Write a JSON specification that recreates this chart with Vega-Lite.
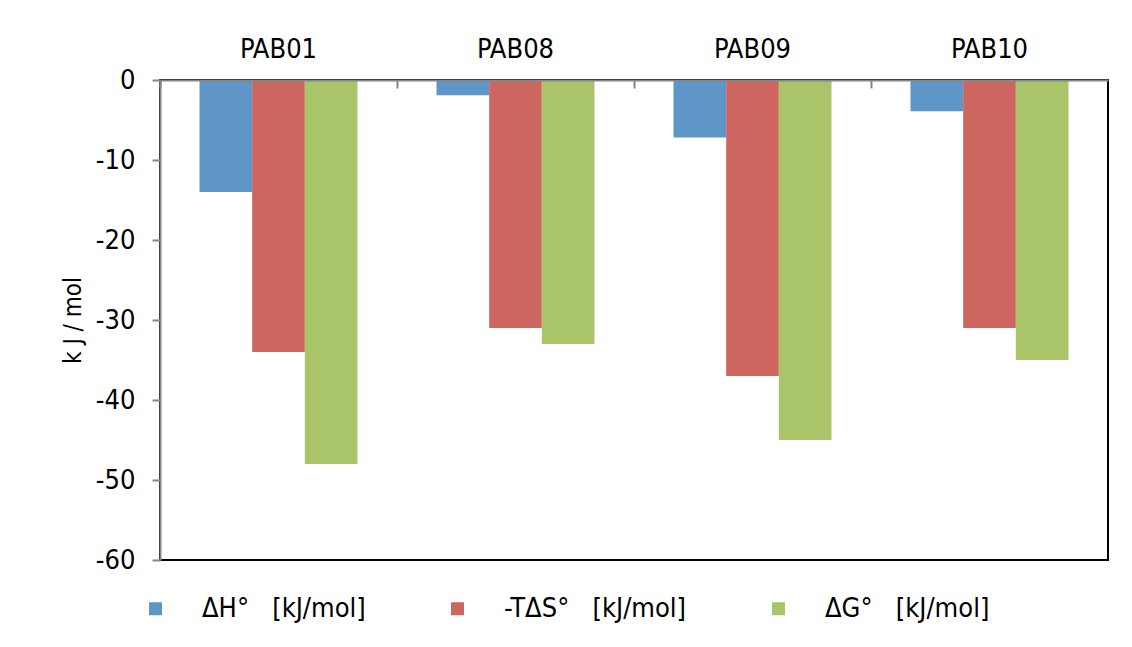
{
  "$schema": "https://vega.github.io/schema/vega-lite/v6.json",
  "width": 948,
  "height": 480,
  "autosize": {"type": "none"},
  "padding": {"left": 160, "top": 80, "right": 24, "bottom": 87},
  "background": "#ffffff",
  "data": {
    "values": [
      {"sample": "PAB01", "term": "ΔH°\u00a0\u00a0\u00a0[kJ/mol]", "kj": -14},
      {"sample": "PAB01", "term": "-TΔS°\u00a0\u00a0\u00a0[kJ/mol]", "kj": -34},
      {"sample": "PAB01", "term": "ΔG°\u00a0\u00a0\u00a0[kJ/mol]", "kj": -48},
      {"sample": "PAB08", "term": "ΔH°\u00a0\u00a0\u00a0[kJ/mol]", "kj": -1.9},
      {"sample": "PAB08", "term": "-TΔS°\u00a0\u00a0\u00a0[kJ/mol]", "kj": -31},
      {"sample": "PAB08", "term": "ΔG°\u00a0\u00a0\u00a0[kJ/mol]", "kj": -33},
      {"sample": "PAB09", "term": "ΔH°\u00a0\u00a0\u00a0[kJ/mol]", "kj": -7.2},
      {"sample": "PAB09", "term": "-TΔS°\u00a0\u00a0\u00a0[kJ/mol]", "kj": -37},
      {"sample": "PAB09", "term": "ΔG°\u00a0\u00a0\u00a0[kJ/mol]", "kj": -45},
      {"sample": "PAB10", "term": "ΔH°\u00a0\u00a0\u00a0[kJ/mol]", "kj": -3.9},
      {"sample": "PAB10", "term": "-TΔS°\u00a0\u00a0\u00a0[kJ/mol]", "kj": -31},
      {"sample": "PAB10", "term": "ΔG°\u00a0\u00a0\u00a0[kJ/mol]", "kj": -35}
    ]
  },
  "mark": {"type": "bar"},
  "encoding": {
    "x": {
      "field": "sample",
      "type": "nominal",
      "scale": {"paddingInner": 0, "paddingOuter": 0},
      "axis": {
        "orient": "top",
        "title": null,
        "zindex": 1,
        "labelAngle": 0,
        "labelFontSize": 27,
        "labelColor": "#000000",
        "labelPadding": 25,
        "bandPosition": 0,
        "ticks": true,
        "tickSize": -8,
        "tickWidth": 2,
        "tickColor": "#868686",
        "domainColor": "#868686",
        "domainWidth": 2
      }
    },
    "xOffset": {
      "field": "term",
      "type": "nominal",
      "sort": ["ΔH°\u00a0\u00a0\u00a0[kJ/mol]", "-TΔS°\u00a0\u00a0\u00a0[kJ/mol]", "ΔG°\u00a0\u00a0\u00a0[kJ/mol]"],
      "scale": {"paddingInner": 0, "paddingOuter": 0.75}
    },
    "y": {
      "field": "kj",
      "type": "quantitative",
      "scale": {"domain": [-60, 0], "nice": false, "zero": true},
      "axis": {
        "title": "k J / mol",
        "titleFontSize": 24,
        "titleFontWeight": "normal",
        "titleColor": "#000000",
        "titlePadding": 10,
        "zindex": 1,
        "grid": false,
        "values": [-60, -50, -40, -30, -20, -10, 0],
        "labelExpr": "toString(datum.value)",
        "labelFontSize": 27,
        "labelColor": "#000000",
        "labelPadding": 17,
        "tickSize": 8,
        "tickWidth": 2,
        "tickColor": "#868686",
        "domainColor": "#868686",
        "domainWidth": 2
      }
    },
    "color": {
      "field": "term",
      "type": "nominal",
      "scale": {
        "domain": ["ΔH°\u00a0\u00a0\u00a0[kJ/mol]", "-TΔS°\u00a0\u00a0\u00a0[kJ/mol]", "ΔG°\u00a0\u00a0\u00a0[kJ/mol]"],
        "range": ["#5f96c8", "#cd6660", "#aac46a"]
      },
      "legend": {
        "title": null,
        "orient": "none",
        "direction": "horizontal",
        "legendX": -18,
        "legendY": 515,
        "symbolType": "square",
        "symbolSize": 169,
        "symbolStrokeWidth": 0,
        "labelFontSize": 27,
        "labelColor": "#000000",
        "labelOffset": 33,
        "columnPadding": 78,
        "labelLimit": 400
      }
    }
  },
  "config": {
    "font": "Liberation Sans Narrow, DejaVu Sans Condensed, Liberation Sans, sans-serif",
    "view": {"stroke": "#000000", "strokeWidth": 2},
    "bar": {"stroke": null}
  }
}
